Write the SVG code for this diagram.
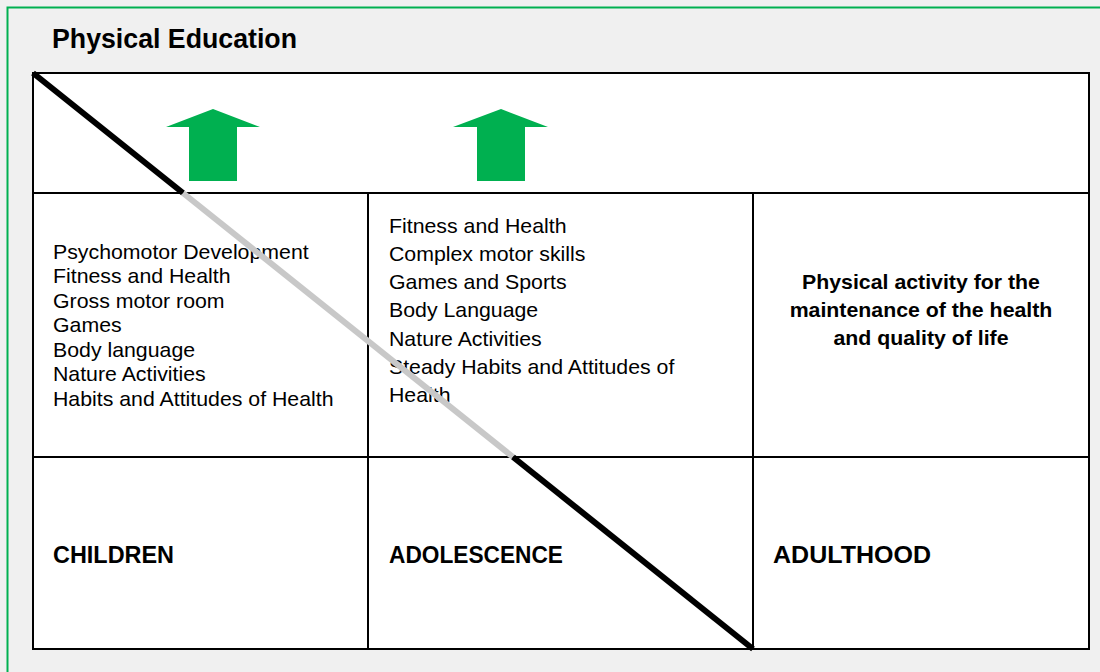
<svg xmlns="http://www.w3.org/2000/svg" width="1100" height="672" viewBox="0 0 1100 672">
<style>
.cell{fill:#ffffff;stroke:#000;stroke-width:2}
.arrow{fill:#00b050}
.body{font-family:"Liberation Sans",Arial,sans-serif;font-size:20px;fill:#000}
.bold{font-family:"Liberation Sans",Arial,sans-serif;font-size:20px;font-weight:bold;fill:#000}
.stage{font-family:"Liberation Sans",Arial,sans-serif;font-size:23px;font-weight:bold;fill:#000}
.title{font-family:"Liberation Sans",Arial,sans-serif;font-size:27px;font-weight:bold;fill:#000}
</style>
<rect x="0" y="0" width="1100" height="672" fill="#f0f0f0"/>
<rect x="7.5" y="7.5" width="1110" height="700" fill="#f0f0f0" stroke="#00b050" stroke-width="2"/>
<g id="title"><text class="title" x="52" y="48" textLength="245" lengthAdjust="spacingAndGlyphs">Physical Education</text></g>
<g id="top-row"><rect class="cell" x="33" y="73" width="1056" height="120"/></g>
<g id="children-content">
<rect class="cell" x="33" y="193" width="335" height="264"/>
<g transform="translate(53,0) scale(1.065,1) translate(-53,0)">
<text class="body" x="53" y="259">Psychomotor Development</text>
<text class="body" x="53" y="283.5">Fitness and Health</text>
<text class="body" x="53" y="308">Gross motor room</text>
<text class="body" x="53" y="332.5">Games</text>
<text class="body" x="53" y="357">Body language</text>
<text class="body" x="53" y="381.5">Nature Activities</text>
<text class="body" x="53" y="406">Habits and Attitudes of Health</text>
</g>
</g>
<g id="adolescence-content">
<rect class="cell" x="368" y="193" width="385" height="264"/>
<g transform="translate(389,0) scale(1.065,1) translate(-389,0)">
<text class="body" x="389" y="233">Fitness and Health</text>
<text class="body" x="389" y="261">Complex motor skills</text>
<text class="body" x="389" y="289.5">Games and Sports</text>
<text class="body" x="389" y="317.5">Body Language</text>
<text class="body" x="389" y="346">Nature Activities</text>
<text class="body" x="389" y="374">Steady Habits and Attitudes of</text>
<text class="body" x="389" y="402">Health</text>
</g>
</g>
<g id="adulthood-content">
<rect class="cell" x="753" y="193" width="336" height="264"/>
<g transform="translate(921,0) scale(1.065,1) translate(-921,0)">
<text class="bold" x="921" y="289" text-anchor="middle">Physical activity for the</text>
<text class="bold" x="921" y="317" text-anchor="middle">maintenance of the health</text>
<text class="bold" x="921" y="345" text-anchor="middle">and quality of life</text>
</g>
</g>
<g id="children">
<rect class="cell" x="33" y="457" width="335" height="192"/>
<text class="stage" x="53" y="563" textLength="121" lengthAdjust="spacingAndGlyphs">CHILDREN</text>
</g>
<g id="adolescence">
<rect class="cell" x="368" y="457" width="385" height="192"/>
<text class="stage" x="389" y="563" textLength="174" lengthAdjust="spacingAndGlyphs">ADOLESCENCE</text>
</g>
<g id="adulthood">
<rect class="cell" x="753" y="457" width="336" height="192"/>
<text class="stage" x="773" y="563" textLength="158" lengthAdjust="spacingAndGlyphs">ADULTHOOD</text>
</g>
<g id="arrow-1"><polygon class="arrow" points="213,109 260,127 237,127 237,181 189,181 189,127 166,127"/></g>
<g id="arrow-2"><polygon class="arrow" points="501,109 548,127 525,127 525,181 477,181 477,127 453,127"/></g>
<g id="connectors">
<line x1="33" y1="73" x2="183" y2="193" stroke="#000" stroke-width="6"/>
<line x1="183" y1="193" x2="513" y2="457" stroke="#c8c8c8" stroke-width="6"/>
<line x1="513" y1="457" x2="753" y2="649" stroke="#000" stroke-width="6"/>
</g>
</svg>
